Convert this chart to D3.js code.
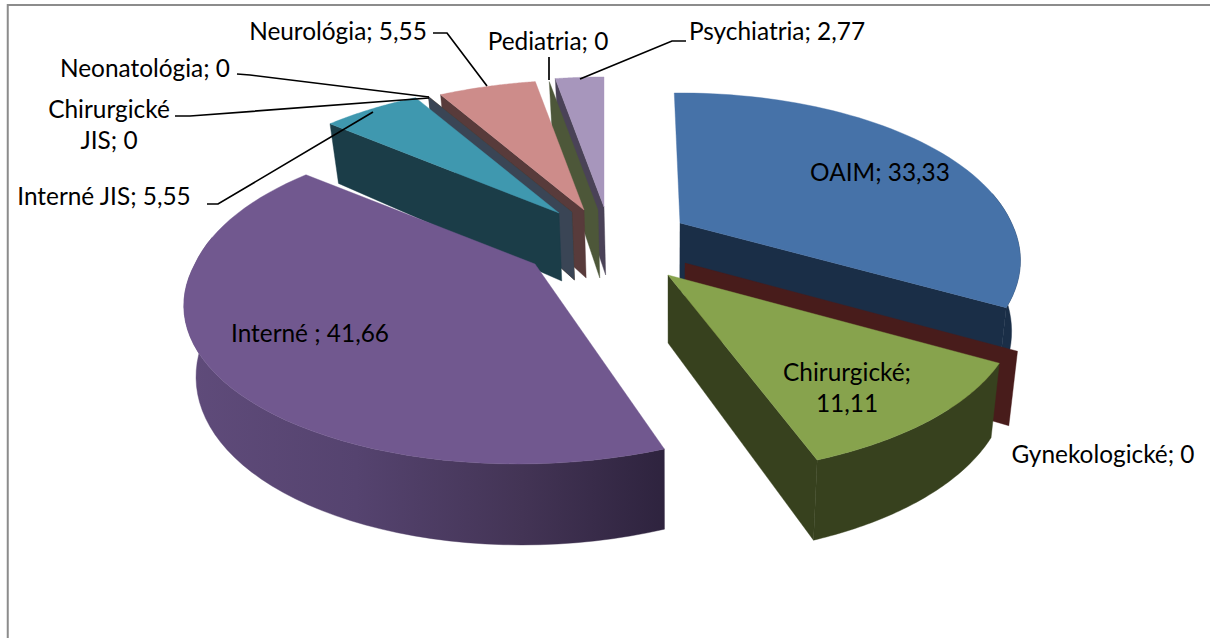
<!DOCTYPE html>
<html><head><meta charset="utf-8">
<style>html,body{margin:0;padding:0;background:#fff}svg{display:block}</style>
<script src="https://cdn.jsdelivr.net/npm/d3@7/dist/d3.min.js"></script>
</head><body><div id="c"></div>
<script>
const categories=["OAIM","Gynekologické","Chirurgické","Interné ","Interné JIS","Chirurgické JIS","Neonatológia","Neurológia","Pediatria","Psychiatria"];
const values=[33.33,0,11.11,41.66,5.55,0,0,5.55,0,2.77];
const valueLabels=["33,33","0","11,11","41,66","5,55","0","0","5,55","0","2,77"];
const topColors=["#4672A8","#7A3230","#87A34D","#71588F","#3F98AF","#E08A3C","#3A4A5C","#CD8C8A","#5F6E40","#A796BC"];
const wallColors=["#1A2E47","#481C1B","#37411E","#url","#1B3D48","#5A3716","#3A4555","#583B3B","#4D5739","#4A4257"];
const drawOrder=[0,1,2,9,8,7,5,6,4,3];
const apexX=[680,685,668,535,559,572,572,584,598,604];
const apexY=[223,263,275,264,213,212,212,210,210,207];
const spinDeg=[-1.2,0,0,0,0,0,0,0,0,0];
const spreadX=[0.975,1,1,1,1,1,1,1,1,1];
const labelLines=[["OAIM; 33,33"],["Gynekologické; 0"],["Chirurgické;","11,11"],["Interné ; 41,66"],["Interné JIS; 5,55"],["Chirurgické","JIS; 0"],["Neonatológia; 0"],["Neurológia; 5,55"],["Pediatria; 0"],["Psychiatria; 2,77"]];
const labelX=[880,1103,847,310,104,109,145,338,548,777];
const labelY=[181,463,381,342,205,118,77,40,50,40];
const leaders=[null,null,null,null,[[207,204],[218,204],[373,112]],[[175,116],[190,116],[429,98]],[[237,74],[250,75],[429,97]],[[433,33],[447,33],[487,86]],[[549,57],[549,80]],[[686,41],[672,41],[580,79]]];

const W=1210,H=638,A=340,B=157.6,K=0.212,D=68,VX=670,SHR=0.025,PX=640;
const svg=d3.select("#c").append("svg").attr("width",W).attr("height",H);
const defs=svg.append("defs");
const grad=defs.append("linearGradient").attr("id","wallPurple").attr("gradientUnits","userSpaceOnUse").attr("x1",190).attr("x2",665).attr("y1",0).attr("y2",0);
[[0,"#5F4B7A"],[0.35,"#55436F"],[0.7,"#433455"],[1,"#2E233E"]].forEach(s=>grad.append("stop").attr("offset",s[0]).attr("stop-color",s[1]));
wallColors[3]="url(#wallPurple)";

svg.append("path").attr("d",`M7.75,${H} V5 H${W}`).attr("fill","none").attr("stroke","#8c8c8c").attr("stroke-width",2);

const pie=d3.pie().sort(null).value(d=>d).startAngle(0).endAngle(2*Math.PI);
const arcs=pie(values);
const line=d3.line();
function topPt(i,t0){
  const t=t0+spinDeg[i]*Math.PI/180;
  const c=Math.cos(t),d=1+K*c;
  const front=Math.max(0,1/d-1)*0.6*(apexX[i]-PX);
  return [apexX[i]+spreadX[i]*A*Math.sin(t)/d+front,apexY[i]-B*c/d];
}
function botPt(i,t0){
  const p=topPt(i,t0),c=Math.cos(t0+spinDeg[i]*Math.PI/180);
  return [p[0]+(VX-p[0])*SHR,p[1]+D*(1-0.9*K*c)];
}
function apexBot(i){return [apexX[i]+(VX-apexX[i])*SHR,apexY[i]+D];}
const g=svg.append("g");
function poly(pts,fill){g.append("path").attr("d",line(pts)+"Z").attr("fill",fill).attr("stroke",fill).attr("stroke-width",0.4);}
const eps=1e-9;
drawOrder.forEach(i=>{
  const a=arcs[i],ap=[apexX[i],apexY[i]],apb=apexBot(i);
  if(Math.sin(a.startAngle)<-eps) poly([ap,topPt(i,a.startAngle),botPt(i,a.startAngle),apb],wallColors[i]);
  if(Math.sin(a.endAngle)>eps) poly([ap,topPt(i,a.endAngle),botPt(i,a.endAngle),apb],wallColors[i]);
  if(a.endAngle>a.startAngle){
    const ts=d3.range(0,61).map(k=>a.startAngle+(a.endAngle-a.startAngle)*k/60);
    const vis=ts.filter(t=>Math.cos(t)<0.2);
    if(vis.length>1) poly(vis.map(t=>topPt(i,t)).concat(vis.slice().reverse().map(t=>botPt(i,t))),wallColors[i]);
    poly([ap].concat(ts.map(t=>topPt(i,t))),topColors[i]);
  }
});
const fontSize=24.4;
leaders.forEach(l=>{if(l)svg.append("path").attr("d",d3.line()(l)).attr("fill","none").attr("stroke","#000").attr("stroke-width",1.7);});
labelLines.forEach((ls,i)=>{
  const t=svg.append("text").attr("text-anchor","middle").attr("font-family","Lato, 'Open Sans', sans-serif").attr("font-size",fontSize).attr("fill","#000");
  ls.forEach((s,k)=>t.append("tspan").attr("x",labelX[i]).attr("y",labelY[i]+k*31).text(s));
});
</script></body></html>
